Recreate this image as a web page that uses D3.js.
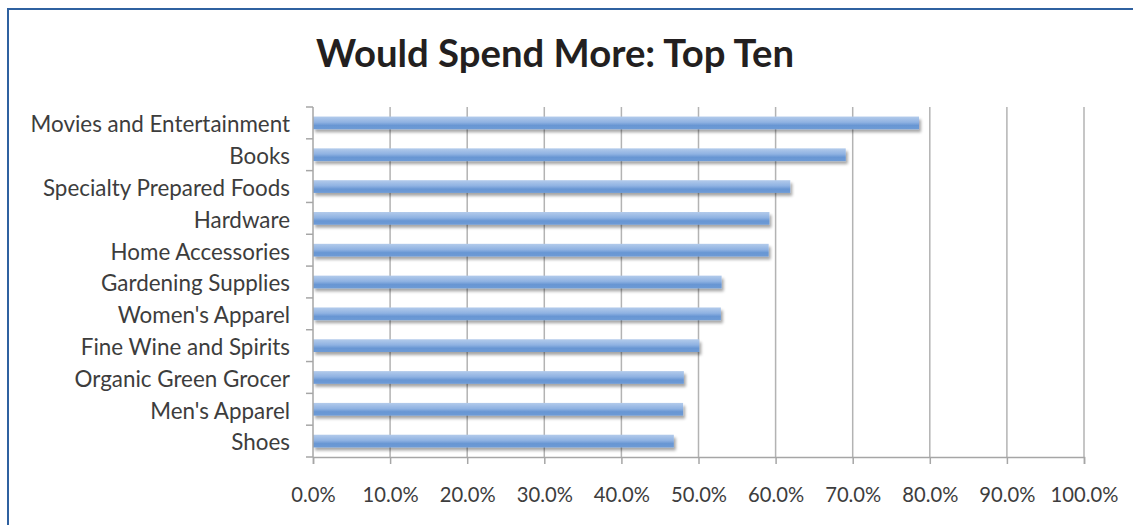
<!DOCTYPE html>
<html>
<head>
<meta charset="utf-8">
<script src="https://cdn.jsdelivr.net/npm/d3@7"></script>
<style>
  body { margin: 0; background: #fff; }
  svg { display: block; font-family: Lato, 'Open Sans', sans-serif; }
</style>
</head>
<body>
<svg id="chart" width="1133" height="525"></svg>
<script>
const categories = [
  'Movies and Entertainment',
  'Books',
  'Specialty Prepared Foods',
  'Hardware',
  'Home Accessories',
  'Gardening Supplies',
  "Women's Apparel",
  'Fine Wine and Spirits',
  'Organic Green Grocer',
  "Men's Apparel",
  'Shoes'
]
const values = [0.786, 0.691, 0.619, 0.592, 0.591, 0.530, 0.529, 0.501, 0.481, 0.480, 0.468]
const xTicks = [0, 0.1, 0.2, 0.3, 0.4, 0.5, 0.6, 0.7, 0.8, 0.9, 1.0]

const margin = { top: 107, right: 49, bottom: 68, left: 313 }
const width = 1133
const height = 525

const svg = d3.select('#chart')

// frame round the whole chart (runs off the right/bottom edge)
svg.append('rect')
  .attr('x', 8).attr('y', 9)
  .attr('width', 1140).attr('height', 530)
  .attr('fill', 'none')
  .attr('stroke', '#2f61a0')
  .attr('stroke-width', 2)

const defs = svg.append('defs')
const grad = defs.append('linearGradient')
  .attr('id', 'barGrad')
  .attr('x1', 0).attr('y1', 0).attr('x2', 0).attr('y2', 1)
grad.append('stop').attr('offset', '0%').attr('stop-color', '#b3cbeb')
grad.append('stop').attr('offset', '45%').attr('stop-color', '#8fb2e2')
grad.append('stop').attr('offset', '70%').attr('stop-color', '#6896d3')
grad.append('stop').attr('offset', '100%').attr('stop-color', '#6e9bd6')

const shadow = defs.append('filter').attr('id', 'barShadow')
  .attr('x', '-5%').attr('y', '-40%').attr('width', '110%').attr('height', '200%')
shadow.append('feGaussianBlur').attr('in', 'SourceAlpha').attr('stdDeviation', 1.6).attr('result', 'blur')
shadow.append('feOffset').attr('dx', 1.5).attr('dy', 2.5).attr('result', 'off')
shadow.append('feComponentTransfer').append('feFuncA').attr('type', 'linear').attr('slope', 0.35)
const merge = shadow.append('feMerge')
merge.append('feMergeNode')
merge.append('feMergeNode').attr('in', 'SourceGraphic')

const x = d3.scaleLinear()
  .domain([0, 1])
  .range([margin.left, width - margin.right])

const y = d3.scaleBand()
  .domain(categories)
  .range([margin.top, height - margin.bottom])
  .paddingInner(0.6)
  .paddingOuter(0.3)

const plotBottom = height - margin.bottom

// title
svg.append('text')
  .attr('x', 555)
  .attr('y', 67)
  .attr('text-anchor', 'middle')
  .attr('font-size', 38.3)
  .attr('font-weight', 'bold')
  .attr('fill', '#231f20')
  .text('Would Spend More: Top Ten')

// vertical gridlines
svg.append('g')
  .selectAll('line')
  .data(xTicks.slice(1))
  .join('line')
  .attr('x1', d => x(d)).attr('x2', d => x(d))
  .attr('y1', margin.top).attr('y2', plotBottom)
  .attr('stroke', '#b3b3b3')
  .attr('stroke-width', 1.5)

// bars
svg.append('g')
  .selectAll('rect')
  .data(values)
  .join('rect')
  .attr('x', x(0))
  .attr('y', (d, i) => y(categories[i]))
  .attr('width', d => x(d) - x(0))
  .attr('height', y.bandwidth())
  .attr('fill', 'url(#barGrad)')
  .attr('filter', 'url(#barShadow)')

// x axis
const xAxis = d3.axisBottom(x)
  .tickValues(xTicks)
  .tickSize(7)
  .tickPadding(24)
  .tickFormat(d3.format('.1%'))

const gx = svg.append('g')
  .attr('transform', `translate(0,${plotBottom})`)
  .call(xAxis)
gx.select('.domain').attr('stroke', '#a6a6a6').attr('stroke-width', 1.5)
gx.selectAll('.tick line').attr('stroke', '#a6a6a6').attr('stroke-width', 1.5)
gx.selectAll('.tick text')
  .attr('font-family', 'Lato, sans-serif')
  .attr('font-size', 20.2)
  .attr('fill', '#3d3d3d')

// y axis: tick marks sit on band boundaries, labels on band centres
const boundaries = d3.range(categories.length + 1).map(i => margin.top + i * (plotBottom - margin.top) / categories.length)

const gy = svg.append('g')
gy.append('line')
  .attr('x1', x(0)).attr('x2', x(0))
  .attr('y1', margin.top).attr('y2', plotBottom)
  .attr('stroke', '#a6a6a6')
  .attr('stroke-width', 1.5)
gy.selectAll('line.tk')
  .data(boundaries)
  .join('line')
  .attr('class', 'tk')
  .attr('x1', x(0) - 7).attr('x2', x(0))
  .attr('y1', d => d).attr('y2', d => d)
  .attr('stroke', '#a6a6a6')
  .attr('stroke-width', 1.5)

gy.selectAll('text')
  .data(categories)
  .join('text')
  .attr('x', 290)
  .attr('y', d => y(d) + y.bandwidth() / 2)
  .attr('dy', '0.42em')
  .attr('text-anchor', 'end')
  .attr('font-size', 22.4)
  .attr('fill', '#3d3d3d')
  .text(d => d)
</script>
</body>
</html>
